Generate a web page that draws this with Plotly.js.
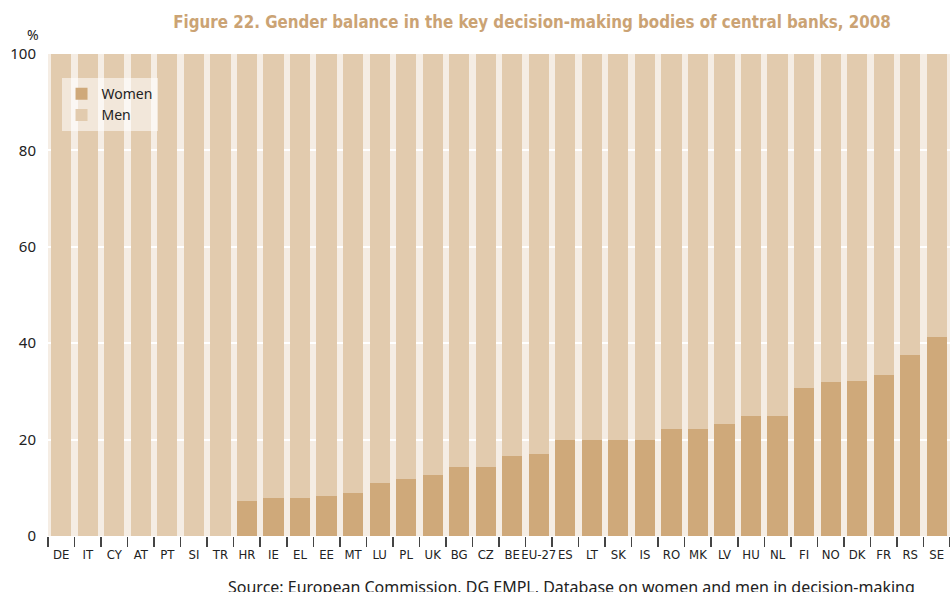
<!DOCTYPE html>
<html>
<head>
<meta charset="utf-8">
<script src="https://cdn.plot.ly/plotly-3.0.1.min.js"></script>
<style>html,body{margin:0;padding:0;background:#fff;}#chart{width:950px;height:592px;}</style>
</head>
<body>
<div id="chart"></div>
<script>
const countries = ["DE","IT","CY","AT","PT","SI","TR","HR","IE","EL","EE","MT","LU","PL","UK","BG","CZ","BE","EU-27","ES","LT","SK","IS","RO","MK","LV","HU","NL","FI","NO","DK","FR","RS","SE"];
const women = [0,0,0,0,0,0,0,7.2,7.8,7.8,8.4,9.0,11.1,11.8,12.6,14.3,14.3,16.7,17.0,20.0,20.0,20.0,20.0,22.3,22.3,23.2,25.0,25.0,30.8,31.9,32.1,33.3,37.5,41.2];
const men = [100,100,100,100,100,100,100,93.1,92.2,92.2,91.6,91.3,89.2,88.5,87.4,86.0,86.0,83.3,83.0,80.3,80.3,80.3,80.3,77.7,77.7,76.8,75.3,75.3,69.2,68.1,67.9,67.0,62.8,59.1];
const yTicks = [0,20,40,60,80,100];

const narrow = "'DejaVu Sans Condensed', 'Liberation Sans Narrow', sans-serif";
const sans = "'Noto Sans', 'Open Sans', sans-serif";

const data = [
  {type:"bar", name:"Women", x:countries, y:women, marker:{color:"#cfa97a", line:{width:0}}, cliponaxis:false},
  {type:"bar", name:"Men", x:countries, y:men, marker:{color:"#e2cbae", line:{width:0}}, cliponaxis:false}
];

const layout = {
  width:950, height:592,
  margin:{l:48, r:0, t:54, b:56},
  paper_bgcolor:"#ffffff",
  plot_bgcolor:"#f5ede4",
  barmode:"stack",
  bargap:0.24,
  showlegend:true,
  title:{text:"<b>Figure 22. Gender balance in the key decision-making bodies of central banks, 2008</b>",
         font:{family:narrow, size:16.8, color:"#cba374"}, x:0.56, xanchor:"center", y:0.962, yanchor:"middle"},
  legend:{x:0.015, y:0.95, xanchor:"left", yanchor:"top", traceorder:"normal",
          bgcolor:"rgba(255,255,255,0.55)", borderwidth:0,
          font:{family:sans, size:14, color:"#222"}, itemwidth:30, tracegroupgap:0},
  xaxis:{type:"category", tickson:"boundaries", ticks:"outside", ticklen:10, tickwidth:1.5, tickcolor:"#444",
         tickangle:0, ticklabelstandoff:9, showgrid:false, zeroline:false, showline:false,
         tickfont:{family:narrow, size:13, color:"#222"}, fixedrange:true},
  yaxis:{range:[0,100], tickvals:yTicks, ticktext:yTicks.map(String), showgrid:true, gridcolor:"#ffffff", gridwidth:2,
         zeroline:false, showline:false, ticks:"", ticklabelstandoff:11,
         tickfont:{family:sans, size:15, color:"#222"}, fixedrange:true},
  annotations:[
    {text:"%", xref:"paper", yref:"paper", x:-0.017, y:1.04, xanchor:"center", yanchor:"middle", showarrow:false,
     font:{family:sans, size:14, color:"#222"}},
    {text:"Source: European Commission, DG EMPL, Database on women and men in decision-making", xref:"paper", yref:"paper",
     x:(226-48)/902, y:-0.105, xanchor:"left", yanchor:"middle", showarrow:false,
     font:{family:sans, size:16, color:"#222"}}
  ]
};

Plotly.newPlot("chart", data, layout, {displayModeBar:false, staticPlot:true});
</script>
</body>
</html>
